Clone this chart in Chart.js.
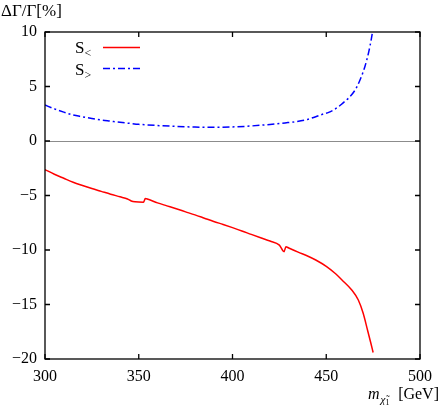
<!DOCTYPE html>
<html>
<head>
<meta charset="utf-8">
<script src="https://cdn.jsdelivr.net/npm/chart.js@4"></script>
<style>
html,body{margin:0;padding:0;background:#fff;}
#wrap{width:440px;height:409px;position:relative;}
</style>
</head>
<body>
<div id="wrap"><canvas id="c" width="440" height="409"></canvas></div>
<script>
// ---- data ----
const redX = [300,305,310,315,320,325,330,335,340,344,346,348,352.5,353.5,355,360,365,370,375,380,385,390,395,400,405,410,415,420,425,427.5,428.5,430,435,440,444.4,450,455,458.4,463.6,467.1,469.7,472,473.8,475];
const redY = [-2.62,-3.05,-3.42,-3.78,-4.08,-4.36,-4.62,-4.88,-5.12,-5.32,-5.50,-5.58,-5.62,-5.28,-5.35,-5.68,-5.95,-6.22,-6.50,-6.78,-7.08,-7.38,-7.66,-7.95,-8.25,-8.57,-8.88,-9.18,-9.55,-10.15,-9.70,-9.82,-10.20,-10.55,-10.92,-11.50,-12.18,-12.75,-13.67,-14.59,-15.81,-17.34,-18.56,-19.40];
const blueX = [300,305,310,315,320,325,330,335,340,345,350,360,370,380,390,400,410,420,428,434,440,444.4,448,451.3,454,456.6,459,461.8,465.4,468,470.6,472.7,474.1,475.2];
const blueY = [3.30,2.95,2.65,2.38,2.22,2.07,1.93,1.82,1.71,1.62,1.53,1.42,1.34,1.28,1.26,1.29,1.38,1.52,1.66,1.78,1.98,2.23,2.45,2.63,2.86,3.15,3.50,3.92,4.68,5.60,6.82,8.20,9.42,10.6];
const seriesNames = ['S<','S>'];
const xTicks = [300,350,400,450,500];
const yTicks = [-20,-15,-10,-5,0,5,10];
const yTitle = 'ΔΓ/Γ[%]';
const xTitleMain = 'm';
const xTitleSub = 'χ̃';
const xTitleSub2 = '1';
const xTitleUnit = '[GeV]';

const FONT = '"Liberation Serif", "DejaVu Serif", serif';
const toPts = (xs, ys) => xs.map((x, i) => ({x: x, y: ys[i]}));

const decor = {
  id: 'decor',
  beforeDatasetsDraw(chart) {
    const {ctx, chartArea: a, scales: {x, y}} = chart;
    ctx.save();
    ctx.strokeStyle = '#8c8c8c';
    ctx.lineWidth = 1;
    const y0 = Math.round(y.getPixelForValue(0)) + 0.5;
    ctx.beginPath(); ctx.moveTo(a.left, y0); ctx.lineTo(a.right, y0); ctx.stroke();
    ctx.restore();
  },
  afterDatasetsDraw(chart) {
    const {ctx, chartArea: a, scales: {x, y}} = chart;
    ctx.save();
    ctx.strokeStyle = '#000';
    ctx.lineWidth = 1.3;
    ctx.strokeRect(a.left, a.top, a.right - a.left, a.bottom - a.top);
    const tl = 5;
    ctx.beginPath();
    xTicks.forEach(v => {
      const px = x.getPixelForValue(v);
      ctx.moveTo(px, a.bottom); ctx.lineTo(px, a.bottom - tl);
      ctx.moveTo(px, a.top); ctx.lineTo(px, a.top + tl);
    });
    yTicks.forEach(v => {
      const py = y.getPixelForValue(v);
      ctx.moveTo(a.left, py); ctx.lineTo(a.left + tl, py);
      ctx.moveTo(a.right, py); ctx.lineTo(a.right - tl, py);
    });
    ctx.stroke();

    // legend
    const ds = chart.data.datasets;
    const rows = [{yl: 47.5, yb: 53}, {yl: 68.5, yb: 75}];
    ds.forEach((d, i) => {
      const r = rows[i];
      ctx.fillStyle = '#000';
      ctx.textBaseline = 'alphabetic';
      ctx.textAlign = 'left';
      ctx.font = '17px ' + FONT;
      ctx.fillText(d.label.charAt(0), 75, r.yb);
      const w = ctx.measureText(d.label.charAt(0)).width;
      ctx.font = '12px ' + FONT;
      ctx.fillText(d.label.slice(1), 75 + w, r.yb + 4);
      ctx.strokeStyle = d.borderColor;
      ctx.lineWidth = d.borderWidth;
      ctx.setLineDash(d.borderDash || []);
      ctx.beginPath(); ctx.moveTo(103, r.yl); ctx.lineTo(140, r.yl); ctx.stroke();
      ctx.setLineDash([]);
    });

    // axis titles
    ctx.fillStyle = '#000';
    ctx.textAlign = 'left';
    ctx.font = '17px ' + FONT;
    ctx.fillText(yTitle, 1, 16);

    ctx.font = 'italic 16px ' + FONT;
    ctx.fillText(xTitleMain, 368, 399);
    const mw = ctx.measureText(xTitleMain).width;
    ctx.font = 'italic 11px ' + FONT;
    ctx.fillText(xTitleSub, 368 + mw + 1, 403);
    const sw = ctx.measureText(xTitleSub).width;
    ctx.font = '8px ' + FONT;
    ctx.fillText(xTitleSub2, 368 + mw + 1 + sw, 405);
    ctx.font = '16px ' + FONT;
    ctx.textAlign = 'right';
    ctx.fillText(xTitleUnit, 439, 399);
    ctx.restore();
  }
};

new Chart(document.getElementById('c'), {
  type: 'line',
  data: {
    datasets: [
      {label: seriesNames[0], data: toPts(redX, redY), borderColor: '#ff0000', borderWidth: 1.5, pointRadius: 0, cubicInterpolationMode: 'monotone', fill: false},
      {label: seriesNames[1], data: toPts(blueX, blueY), borderColor: '#0000ff', borderWidth: 1.5, borderDash: [7, 3, 2, 3], pointRadius: 0, cubicInterpolationMode: 'monotone', fill: false}
    ]
  },
  options: {
    responsive: false,
    animation: false,
    layout: {padding: {left: 0, right: 14, top: 32, bottom: 0}},
    plugins: {legend: {display: false}, tooltip: {enabled: false}},
    scales: {
      x: {
        type: 'linear', min: 300, max: 500,
        afterBuildTicks: s => { s.ticks = xTicks.map(v => ({value: v})); },
        afterFit: s => { s.height = 50; },
        grid: {display: false, drawTicks: false},
        border: {display: false},
        ticks: {color: '#000', padding: 8, maxRotation: 0, font: {family: FONT, size: 16}, callback: v => String(v)}
      },
      y: {
        type: 'linear', min: -20, max: 10,
        afterBuildTicks: s => { s.ticks = yTicks.map(v => ({value: v})); },
        afterFit: s => { s.width = 45; },
        grid: {display: false, drawTicks: false},
        border: {display: false},
        ticks: {color: '#000', padding: 8, font: {family: FONT, size: 16}, callback: v => String(v).replace('-', '\u2212')}
      }
    }
  },
  plugins: [decor]
});
</script>
</body>
</html>
